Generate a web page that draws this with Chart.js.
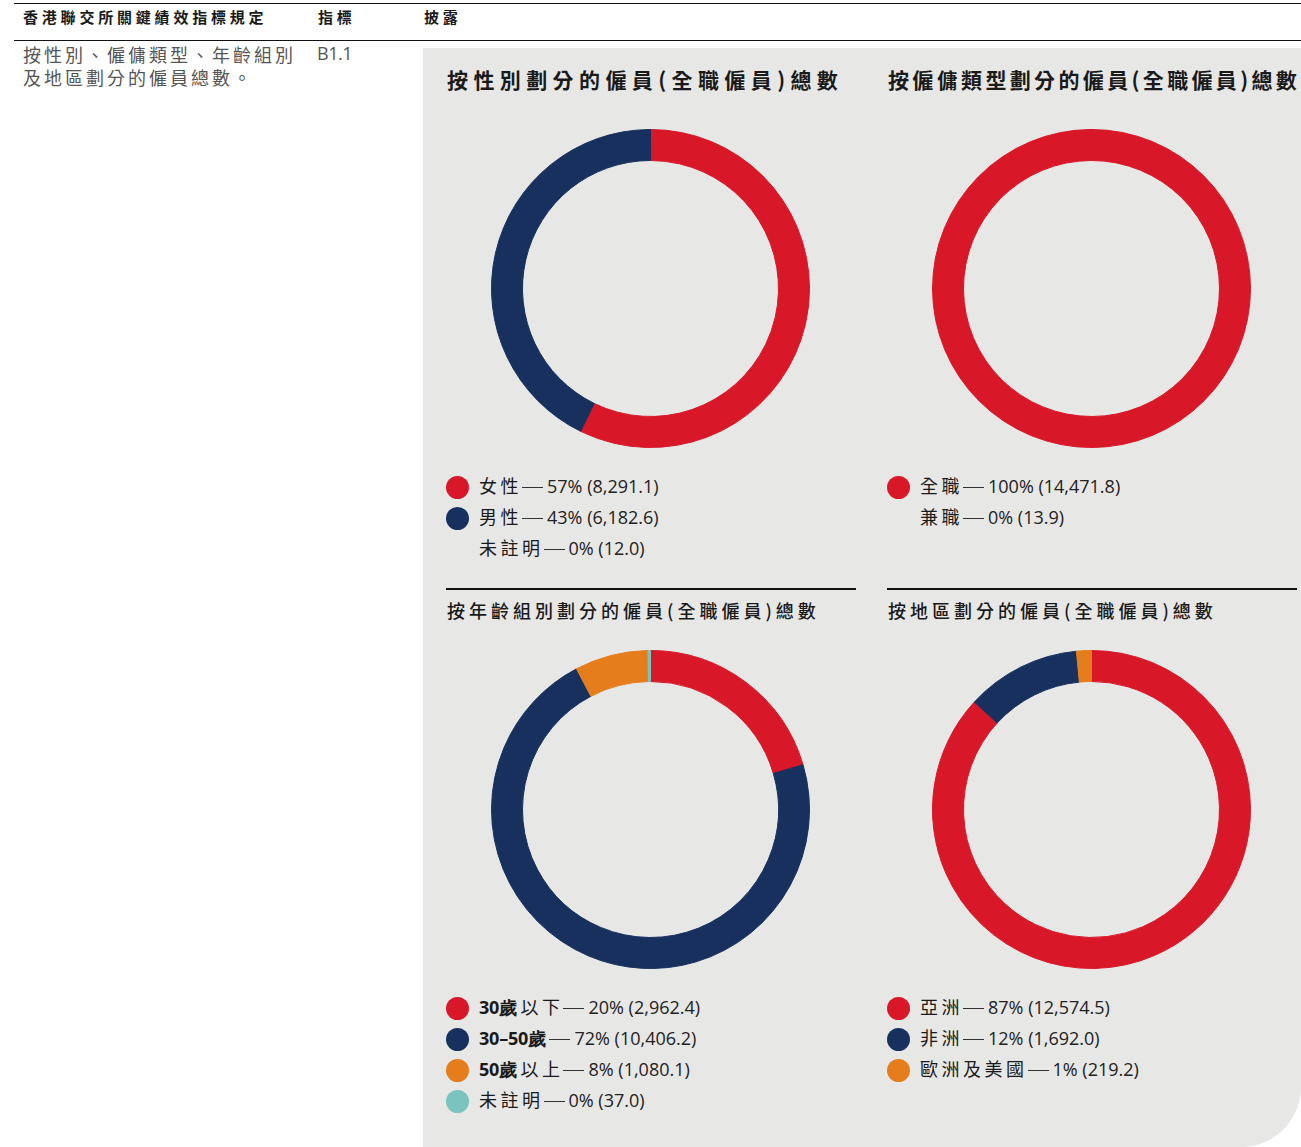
<!DOCTYPE html>
<html>
<head>
<meta charset="utf-8">
<script src="https://cdn.jsdelivr.net/npm/chart.js@4.4.1/dist/chart.umd.min.js"></script>
<style>
  body { margin: 0; width: 1301px; height: 1147px; background: #fff; position: relative; overflow: hidden;
         font-family: "Open Sans", "Noto Sans CJK TC", sans-serif; color: #1a1a1a; }
  .abs { position: absolute; white-space: nowrap; }
  .hline { position: absolute; height: 1px; background: #111; }
  .hdr { font-family: "Noto Sans CJK TC", sans-serif; font-weight: 700; font-size: 15px; letter-spacing: 3.8px; top: 6px; }
  .body { font-family: "Noto Sans CJK TC", sans-serif; font-size: 18px; letter-spacing: 3px; color: #555; }
  #panel { position: absolute; left: 423px; top: 48px; width: 878px; height: 1099px; background: #e7e7e6;
           border-bottom-right-radius: 60px; }
  .title { font-family: "Noto Sans CJK TC", sans-serif; font-weight: 700; font-size: 21px; }
  .sub { font-family: "Noto Sans CJK TC", sans-serif; font-weight: 500; font-size: 18px; letter-spacing: 4px; }
  canvas { position: absolute; }
  .leg { position: absolute; }
  .row { position: relative; height: 31px; line-height: 31px; font-size: 18px; white-space: nowrap; }
  .dot { position: absolute; left: -33px; top: 6px; width: 23px; height: 23px; border-radius: 50%; }
  .lab { font-family: "Noto Sans CJK TC", sans-serif; font-size: 18px; letter-spacing: 3.5px; }
  .lab b { font-family: "Open Sans", sans-serif; font-weight: 700; letter-spacing: -0.2px; margin-right: 3.5px; }
  .dash { display: inline-block; width: 21px; height: 1px; background: #333; vertical-align: middle; margin: 0 4px 0 0; position: relative; top: -1px; }
  .num { letter-spacing: 0; color: #222; }
  .sep { position: absolute; top: 588px; height: 1.5px; background: #111; width: 410px; }
</style>
</head>
<body>
<div class="hline" style="left:14px;top:3px;width:1287px"></div>
<div class="hline" style="left:14px;top:40px;width:1287px"></div>
<div class="abs hdr" style="left:23px">香港聯交所關鍵績效指標規定</div>
<div class="abs hdr" style="left:318px">指標</div>
<div class="abs hdr" style="left:424px">披露</div>
<div class="abs body" style="left:23px;top:41px">按性別、僱傭類型、年齡組別</div>
<div class="abs body" style="left:23px;top:64px">及地區劃分的僱員總數。</div>
<div class="abs" style="left:317px;top:41px;font-size:18px;color:#555;letter-spacing:-0.5px">B1.1</div>

<div id="panel"></div>
<div class="abs title" style="left:447px;top:64px;letter-spacing:5.4px">按性別劃分的僱員(全職僱員)總數</div>
<div class="abs title" style="left:888px;top:64px;letter-spacing:3.35px">按僱傭類型劃分的僱員(全職僱員)總數</div>
<div class="sep" style="left:446px"></div>
<div class="sep" style="left:887px"></div>
<div class="abs sub" style="left:447px;top:597px">按年齡組別劃分的僱員(全職僱員)總數</div>
<div class="abs sub" style="left:888px;top:597px">按地區劃分的僱員(全職僱員)總數</div>

<canvas id="c1" width="319" height="319" style="left:491px;top:129px"></canvas>
<canvas id="c2" width="319" height="319" style="left:932px;top:129px"></canvas>
<canvas id="c3" width="319" height="319" style="left:491px;top:650px"></canvas>
<canvas id="c4" width="319" height="319" style="left:932px;top:650px"></canvas>

<div class="leg" id="l1" style="left:479px;top:470px"></div>
<div class="leg" id="l2" style="left:920px;top:470px"></div>
<div class="leg" id="l3" style="left:479px;top:991px"></div>
<div class="leg" id="l4" style="left:920px;top:991px"></div>

<script>
// 按性別
const genderLabels = ['女性', '男性', '未註明'];
const genderValues = [8291.1, 6182.6, 12.0];
const genderPct = ['57%', '43%', '0%'];

// 按僱傭類型
const typeLabels = ['全職', '兼職'];
const typeValues = [14471.8, 13.9];
const typePct = ['100%', '0%'];

// 按年齡組別
const ageLabels = ['30歲以下', '30–50歲', '50歲以上', '未註明'];
const ageValues = [2962.4, 10406.2, 1080.1, 37.0];
const agePct = ['20%', '72%', '8%', '0%'];

// 按地區
const regionLabels = ['亞洲', '非洲', '歐洲及美國'];
const regionValues = [12574.5, 1692.0, 219.2];
const regionPct = ['87%', '12%', '1%'];

const RED = '#d81729', NAVY = '#18305e', ORANGE = '#e67d1c', TEAL = '#7ac3be';

function fmt(v) {
  return v.toLocaleString('en-US', { minimumFractionDigits: 1, maximumFractionDigits: 1 });
}

function labelHtml(s) {
  // age labels: the number and 歲 are bold
  const m = s.match(/^([0-9–]+歲)(.*)$/);
  if (m) return '<b>' + m[1] + '</b>' + m[2];
  return s;
}

function drawDonut(id, labels, values, colors) {
  new Chart(document.getElementById(id), {
    type: 'doughnut',
    data: {
      labels: labels,
      datasets: [{ data: values, backgroundColor: colors, borderColor: colors, borderWidth: 1, hoverOffset: 0 }]
    },
    options: {
      responsive: false,
      animation: false,
      cutout: '80.5%',
      plugins: { legend: { display: false }, tooltip: { enabled: false } }
    }
  });
}

function drawLegend(id, labels, values, pct, dots) {
  const el = document.getElementById(id);
  el.innerHTML = labels.map((l, i) =>
    '<div class="row">' +
    (dots[i] ? '<span class="dot" style="background:' + dots[i] + '"></span>' : '') +
    '<span class="lab">' + labelHtml(l) + '</span><span class="dash"></span>' +
    '<span class="num">' + pct[i] + ' (' + fmt(values[i]) + ')</span></div>'
  ).join('');
}

drawDonut('c1', genderLabels, genderValues, [RED, NAVY, NAVY]);
drawDonut('c2', typeLabels, typeValues, [RED, RED]);
drawDonut('c3', ageLabels, ageValues, [RED, NAVY, ORANGE, TEAL]);
drawDonut('c4', regionLabels, regionValues, [RED, NAVY, ORANGE]);

drawLegend('l1', genderLabels, genderValues, genderPct, [RED, NAVY, null]);
drawLegend('l2', typeLabels, typeValues, typePct, [RED, null]);
drawLegend('l3', ageLabels, ageValues, agePct, [RED, NAVY, ORANGE, TEAL]);
drawLegend('l4', regionLabels, regionValues, regionPct, [RED, NAVY, ORANGE]);
</script>
</body>
</html>
